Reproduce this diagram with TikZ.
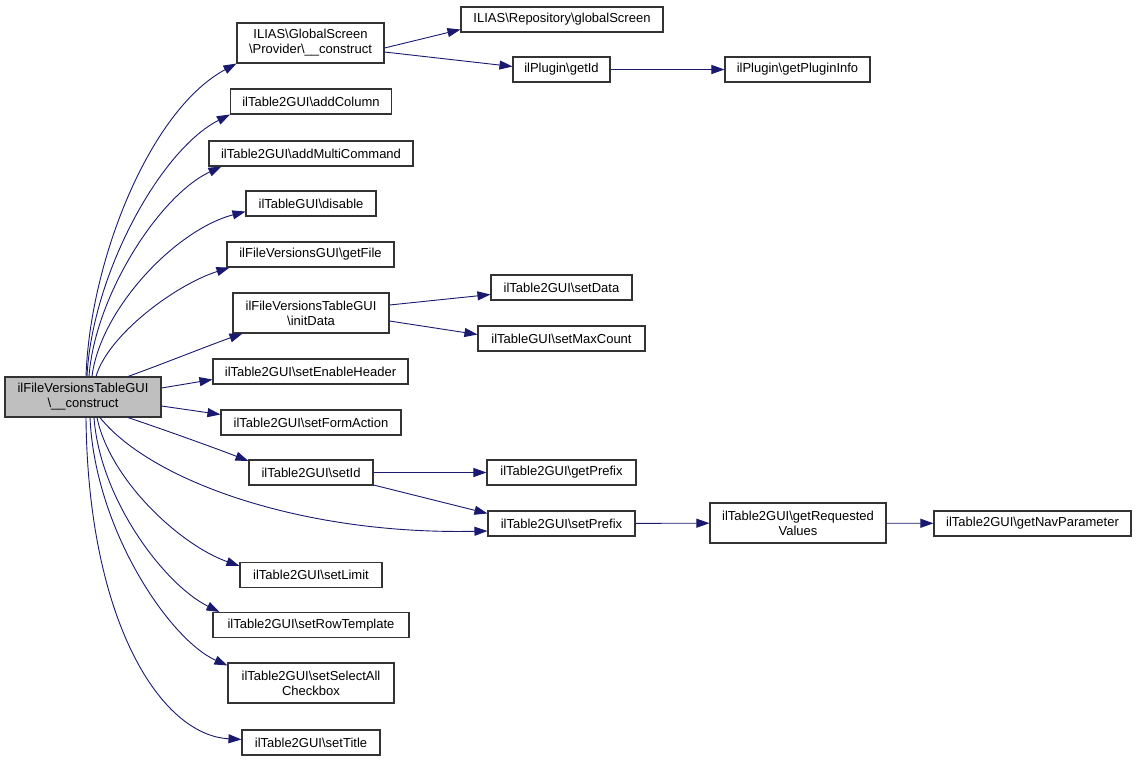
\documentclass[tikz,border=0pt]{standalone}
\usepackage{fontspec}
\setmainfont{Liberation Sans}
\usetikzlibrary{arrows.meta,calc}
\definecolor{edgeblue}{HTML}{191970}
\definecolor{boxline}{HTML}{333333}
\tikzset{
  fn/.style={draw=boxline, line width=1.1pt, fill=white, inner sep=0pt, align=center,
    font=\fontsize{13}{15}\selectfont, minimum height=25pt},
  fn2/.style={fn, minimum height=40pt},
  cur/.style={fn2, fill=gray!50},
  call/.style={draw=edgeblue, line width=0.9pt, -{Triangle[length=13pt,width=9pt]}},
}
\newcommand{\bs}{\textbackslash}
\begin{document}
\begin{tikzpicture}[x=1pt,y=-1pt]
\fill[white] (0,0) rectangle (1137,761);
\useasboundingbox (0,0) rectangle (1137,761);
% nodes
\node[cur, minimum width=156pt] (main) at (83,397) {ilFileVersionsTableGUI\\\bs\_\_construct};
\node[fn2, minimum width=147pt] (gs) at (310.5,43) {ILIAS\bs GlobalScreen\\\bs Provider\bs\_\_construct};
\node[fn, minimum width=202pt] (repo) at (562,19.5) {ILIAS\bs Repository\bs globalScreen};
\node[fn, minimum width=97pt] (getId) at (561.5,69.5) {ilPlugin\bs getId};
\node[fn, minimum width=145pt] (pinfo) at (797.5,69.5) {ilPlugin\bs getPluginInfo};
\node[fn, minimum width=161pt] (addCol) at (311,101.5) {ilTable2GUI\bs addColumn};
\node[fn, minimum width=204pt] (addMulti) at (311,153.5) {ilTable2GUI\bs addMultiCommand};
\node[fn, minimum width=130pt] (disable) at (311,203.5) {ilTableGUI\bs disable};
\node[fn, minimum width=167pt] (getFile) at (310.5,254.5) {ilFileVersionsGUI\bs getFile};
\node[fn2, minimum width=156pt] (initData) at (311,313) {ilFileVersionsTableGUI\\\bs initData};
\node[fn, minimum width=141pt] (setData) at (561.5,287.5) {ilTable2GUI\bs setData};
\node[fn, minimum width=167pt] (setMax) at (561.5,338.5) {ilTableGUI\bs setMaxCount};
\node[fn, minimum width=195pt] (enHead) at (310.5,371.5) {ilTable2GUI\bs setEnableHeader};
\node[fn, minimum width=180pt] (formAct) at (311,422.5) {ilTable2GUI\bs setFormAction};
\node[fn, minimum width=124pt] (setId) at (311,472.5) {ilTable2GUI\bs setId};
\node[fn, minimum width=149pt] (getPre) at (561.5,472.5) {ilTable2GUI\bs getPrefix};
\node[fn, minimum width=147pt] (setPre) at (561.5,523.5) {ilTable2GUI\bs setPrefix};
\node[fn2, minimum width=176pt] (getReq) at (798,523) {ilTable2GUI\bs getRequested\\Values};
\node[fn, minimum width=197pt] (getNav) at (1032.5,523.5) {ilTable2GUI\bs getNavParameter};
\node[fn, minimum width=142pt] (limit) at (311,575) {ilTable2GUI\bs setLimit};
\node[fn, minimum width=196pt] (rowT) at (311,625) {ilTable2GUI\bs setRowTemplate};
\node[fn2, minimum width=166pt] (selAll) at (311,683) {ilTable2GUI\bs setSelectAll\\Checkbox};
\node[fn, minimum width=138pt] (title) at (311,742.5) {ilTable2GUI\bs setTitle};
% edges from main (upwards)
\draw[call] ($(main.north)+(3,0)$) .. controls (90,260) and (150,110) .. (gs.south west);
\draw[call] ($(main.north)+(4,0)$) .. controls (92,275) and (160,150) .. (addCol.south west);
\draw[call] ($(main.north)+(6,0)$) .. controls (95,295) and (160,195) .. ($(addMulti.south west)+(13,0)$);
\draw[call] ($(main.north)+(9,0)$) .. controls (100,310) and (175,230) .. ($(disable.south west)+(0,-5)$);
\draw[call] ($(main.north)+(13,0)$) .. controls (108,335) and (175,285) .. ($(getFile.south west)+(3,0)$);
\draw[call] ($(main.north)+(45,0)$) .. controls (160,365) and (210,345) .. ($(initData.south west)+(10,0)$);
\draw[call] ($(main.east)+(0,-9)$) -- ($(enHead.west)+(0,8)$);
\draw[call] ($(main.east)+(0,9)$) -- ($(formAct.west)+(0,-8)$);
% edges from main (downwards)
\draw[call] ($(main.south)+(45,0)$) .. controls (165,430) and (215,448) .. ($(setId.north west)+(0,1.5)$);
\draw[call] ($(main.south)+(17,0)$) .. controls (150,480) and (300,535) .. ($(setPre.west)+(0,7.5)$);
\draw[call] ($(main.south)+(14,0)$) .. controls (110,480) and (180,545) .. ($(limit.north west)+(0,4)$);
\draw[call] ($(main.south)+(11,0)$) .. controls (100,500) and (165,585) .. ($(rowT.north west)+(7,0)$);
\draw[call] ($(main.south)+(7,0)$) .. controls (95,530) and (170,640) .. ($(selAll.north west)+(0,3)$);
\draw[call] ($(main.south)+(3,0)$) .. controls (88,620) and (160,735) .. ($(title.north west)+(0,10)$);
% other edges
\draw[call] ($(gs.east)+(0,5)$) -- ($(repo.west)+(0,10)$);
\draw[call] ($(gs.east)+(0,9)$) -- ($(getId.west)+(0,-3)$);
\draw[call] (getId) -- (pinfo);
\draw[call] ($(initData.east)+(0,-8)$) -- ($(setData.west)+(0,7)$);
\draw[call] ($(initData.east)+(0,8)$) -- ($(setMax.west)+(0,-4)$);
\draw[call] (setId) -- (getPre);
\draw[call] ($(setId.east)+(0,12.5)$) -- ($(setPre.north west)+(0,3)$);
\draw[call] (setPre) -- (getReq);
\draw[call] (getReq) -- (getNav);
\end{tikzpicture}
\end{document}
